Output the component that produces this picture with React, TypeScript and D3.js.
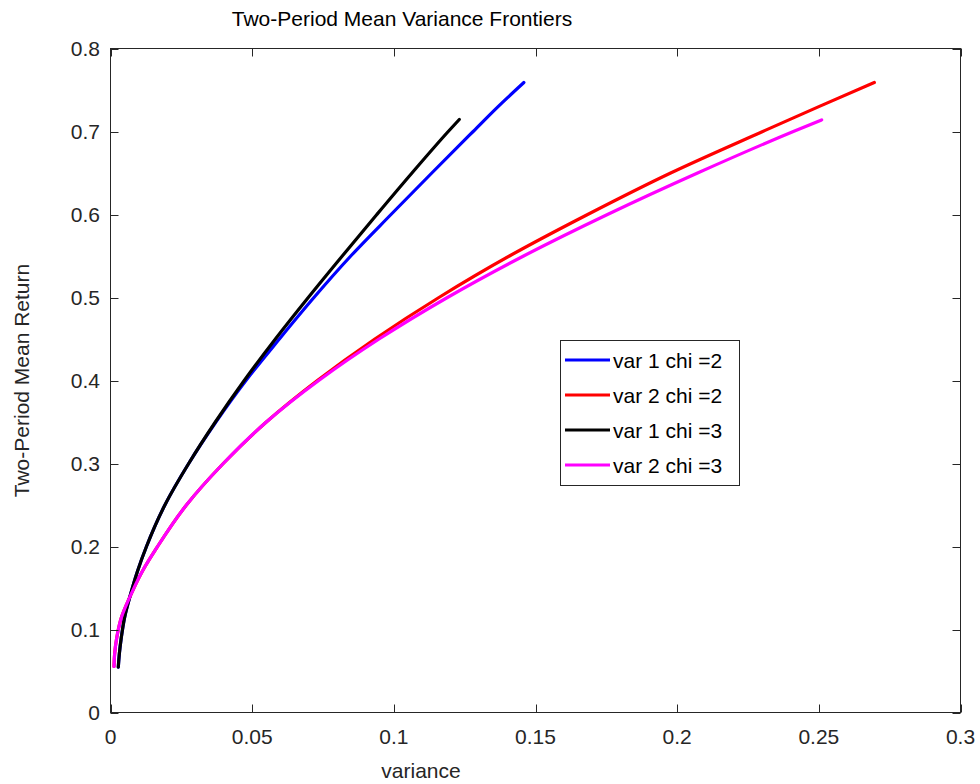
import React from "react";
import * as d3 from "d3";

// ---- data ----
const xTicks = [0, 0.05, 0.1, 0.15, 0.2, 0.25, 0.3];
const xTickLabels = ["0", "0.05", "0.1", "0.15", "0.2", "0.25", "0.3"];
const yTicks = [0, 0.1, 0.2, 0.3, 0.4, 0.5, 0.6, 0.7, 0.8];
const yTickLabels = ["0", "0.1", "0.2", "0.3", "0.4", "0.5", "0.6", "0.7", "0.8"];

const seriesNames = ["var 1 chi =2", "var 2 chi =2", "var 1 chi =3", "var 2 chi =3"];
const seriesColors = ["#0000ff", "#ff0000", "#000000", "#ff00ff"];

// var 1 chi = 2 (blue): variance (x) and mean return (y)
const blueX = [0.00275, 0.0031, 0.0038, 0.005, 0.0068, 0.0095, 0.0127, 0.0192, 0.0276, 0.0372, 0.0478, 0.0596, 0.0718, 0.0848, 0.099, 0.1134, 0.128, 0.1368, 0.1459];
const blueY = [0.0546, 0.07, 0.09, 0.115, 0.139, 0.17, 0.2, 0.25, 0.3, 0.35, 0.4, 0.45, 0.5, 0.55, 0.6, 0.65, 0.7, 0.73, 0.759];
// var 2 chi = 2 (red)
const redX = [0.00124, 0.00145, 0.0022, 0.0039, 0.0068, 0.0112, 0.0166, 0.0268, 0.0398, 0.055, 0.073, 0.0933, 0.1159, 0.1408, 0.1684, 0.1977, 0.2302, 0.25, 0.2696];
const redY = [0.0554, 0.07, 0.09, 0.115, 0.139, 0.17, 0.2, 0.25, 0.3, 0.35, 0.4, 0.45, 0.5, 0.55, 0.6, 0.65, 0.7, 0.73, 0.759];
// var 1 chi = 3 (black)
const blackX = [0.00275, 0.0031, 0.0038, 0.005, 0.0068, 0.0095, 0.0127, 0.0192, 0.0276, 0.037, 0.0472, 0.0582, 0.0698, 0.0818, 0.094, 0.1064, 0.1192, 0.1231];
const blackY = [0.0546, 0.07, 0.09, 0.115, 0.139, 0.17, 0.2, 0.25, 0.3, 0.35, 0.4, 0.45, 0.5, 0.55, 0.6, 0.65, 0.7, 0.7145];
// var 2 chi = 3 (magenta)
const magX = [0.00124, 0.00145, 0.0022, 0.0039, 0.0068, 0.0112, 0.0166, 0.0268, 0.0398, 0.055, 0.0735, 0.0948, 0.1189, 0.1458, 0.1754, 0.2072, 0.241, 0.251];
const magY = [0.0554, 0.07, 0.09, 0.115, 0.139, 0.17, 0.2, 0.25, 0.3, 0.35, 0.4, 0.45, 0.5, 0.55, 0.6, 0.65, 0.7, 0.714];

const titleText = "Two-Period Mean Variance Frontiers";
const xLabelText = "variance";
const yLabelText = "Two-Period Mean Return";

const W = 980;
const H = 784;
const L = 110.5;
const R = 960.5;
const T = 48.5;
const B = 712.5;
const FONT = "'Liberation Sans', Arial, Helvetica, sans-serif";
const AX = "#262626";

export default function App() {
  const x = d3.scaleLinear().domain([0, 0.3]).range([L, R]);
  const y = d3.scaleLinear().domain([0, 0.8]).range([B, T]);
  const line = d3
    .line<[number, number]>()
    .x((d) => x(d[0]))
    .y((d) => y(d[1]))
    .curve(d3.curveMonotoneY);

  const series = [
    { xs: blueX, ys: blueY },
    { xs: redX, ys: redY },
    { xs: blackX, ys: blackY },
    { xs: magX, ys: magY },
  ];

  const tickLen = 8;
  const legX = 560.5;
  const legY = 340.5;
  const legW = 179;
  const legH = 145;
  const rowY = [360, 395, 430, 465];

  return (
    <svg
      width={W}
      height={H}
      style={{ position: "absolute", left: 0, top: 0, background: "#fff" }}
      fontFamily={FONT}
    >
      <defs>
        <clipPath id="clip">
          <rect x={L} y={T} width={R - L} height={B - T} />
        </clipPath>
      </defs>
      <rect x={0} y={0} width={W} height={H} fill="#fff" />
      {/* title */}
      <text x={402} y={26} textAnchor="middle" fontSize={21} fill="#000">
        {titleText}
      </text>

      {/* series */}
      <g clipPath="url(#clip)">
        {series.map((s, i) => (
          <path
            key={i}
            d={line(s.xs.map((v, j) => [v, s.ys[j]] as [number, number])) || ""}
            fill="none"
            stroke={seriesColors[i]}
            strokeWidth={3.2}
            strokeLinecap="round"
            strokeLinejoin="round"
          />
        ))}
      </g>

      {/* axes box */}
      <rect x={L} y={T} width={R - L} height={B - T} fill="none" stroke={AX} strokeWidth={1} />

      {/* x ticks */}
      {xTicks.map((t, i) => (
        <g key={"xt" + i}>
          <line x1={Math.round(x(t)) + 0.5} x2={Math.round(x(t)) + 0.5} y1={B} y2={B - tickLen} stroke={AX} strokeWidth={1} />
          <line x1={Math.round(x(t)) + 0.5} x2={Math.round(x(t)) + 0.5} y1={T} y2={T + tickLen} stroke={AX} strokeWidth={1} />
          <text x={x(t)} y={744} textAnchor="middle" fontSize={21} fill={AX}>
            {xTickLabels[i]}
          </text>
        </g>
      ))}

      {/* y ticks */}
      {yTicks.map((t, i) => (
        <g key={"yt" + i}>
          <line x1={L} x2={L + tickLen} y1={Math.round(y(t)) + 0.5} y2={Math.round(y(t)) + 0.5} stroke={AX} strokeWidth={1} />
          <line x1={R} x2={R - tickLen} y1={Math.round(y(t)) + 0.5} y2={Math.round(y(t)) + 0.5} stroke={AX} strokeWidth={1} />
          <text x={100} y={y(t)} dy="0.36em" textAnchor="end" fontSize={21} fill={AX}>
            {yTickLabels[i]}
          </text>
        </g>
      ))}

      {/* axis labels */}
      <text x={421} y={778} textAnchor="middle" fontSize={21} fill={AX}>
        {xLabelText}
      </text>
      <text
        transform={`translate(29, ${(T + B) / 2}) rotate(-90)`}
        textAnchor="middle"
        fontSize={21}
        fill={AX}
      >
        {yLabelText}
      </text>

      {/* legend */}
      <rect x={legX} y={legY} width={legW} height={legH} fill="#fff" stroke={AX} strokeWidth={1} />
      {seriesNames.map((n, i) => (
        <g key={"lg" + i}>
          <line x1={565} x2={610} y1={rowY[i]} y2={rowY[i]} stroke={seriesColors[i]} strokeWidth={3} />
          <text x={613} y={rowY[i]} dy="0.36em" fontSize={21} fill="#000">
            {n}
          </text>
        </g>
      ))}
    </svg>
  );
}
